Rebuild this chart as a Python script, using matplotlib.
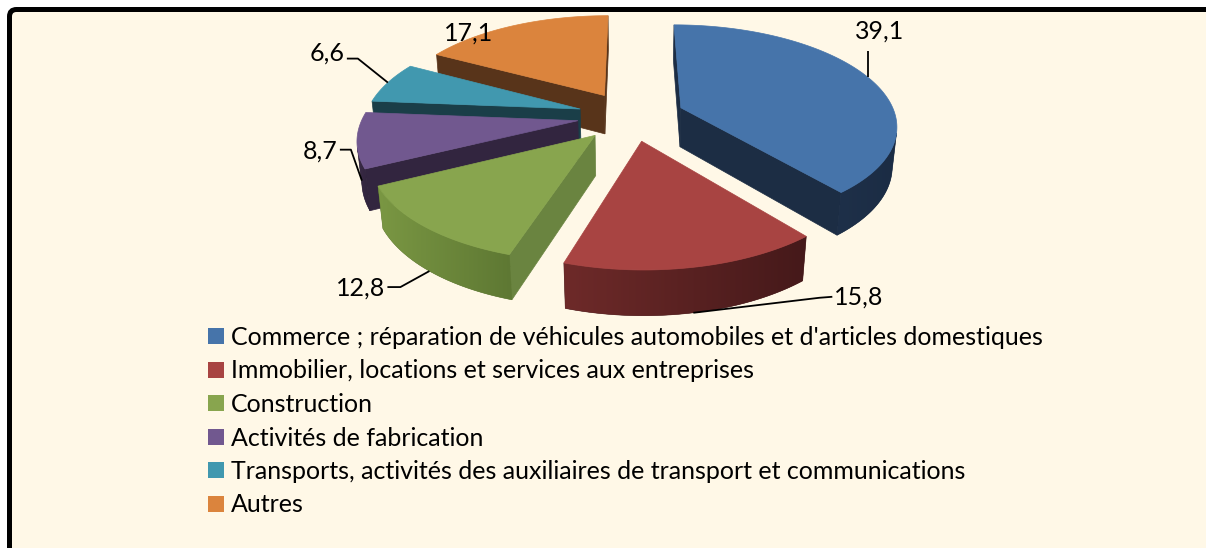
import numpy as np
import matplotlib
matplotlib.use("Agg")
import matplotlib.pyplot as plt
from matplotlib.patches import Polygon, FancyBboxPatch, Patch
from matplotlib.colors import LinearSegmentedColormap

# ---------------- data ----------------
categories = [
    "Commerce ; réparation de véhicules automobiles et d'articles domestiques",
    "Immobilier, locations et services aux entreprises",
    "Construction",
    "Activités de fabrication",
    "Transports, activités des auxiliaires de transport et communications",
    "Autres",
]
values = [39.1, 15.8, 12.8, 8.7, 6.6, 17.1]
value_labels = ["39,1", "15,8", "12,8", "8,7", "6,6", "17,1"]

# ---------------- style ----------------
top_colors = ["#4674AA", "#A84442", "#88A54E", "#71588F", "#4198AF", "#DB843D"]
wall_dark = ["#1B2C44", "#45191A", "#5E7833", "#2F233B", "#193C45", "#55321A"]
wall_light = ["#1E3049", "#6E2A29", "#7A9743", "#3A2B47", "#1D4550", "#5E3A1E"]
radial_colors = ["#1C2D44", "#5A2220", "#6A8440", "#32253F", "#1A3E48", "#58341A"]
cream = "#FFF8E7"
FONT = ["Lato", "DejaVu Sans"]
plt.rcParams["font.family"] = FONT

W, H, DPI = 1206, 548, 100
# 3D view parameters (pie radius = 1)
D = 5.5            # camera distance
ELEV = np.degrees(np.arcsin(0.46))
THICK = 0.21       # pie thickness
EXPLODE = 0.25     # explosion distance
SCALE = 1181.0     # pixels per projected unit
CX, CY = 631.0, 116.0  # pixel position of the pie centre (top face)

se, ce = np.sin(np.radians(ELEV)), np.cos(np.radians(ELEV))
cam = np.array([0.0, -D * ce, D * se])


def proj(x, y, z):
    dist = D + y * ce - z * se
    return x / dist, (y * se + z * ce) / dist


fig = plt.figure(figsize=(W / DPI, H / DPI), dpi=DPI, facecolor="white")

# background / frame axes in pixel units
bg = fig.add_axes([0, 0, 1, 1])
bg.set_xlim(0, W)
bg.set_ylim(H, 0)
bg.axis("off")
bg.add_patch(FancyBboxPatch((9.5, 9.5), W + 40, H + 40,
                            boxstyle="round,pad=0,rounding_size=7",
                            lw=3.6, ec="black", fc=cream, zorder=0))

# pie axes in projected units
ax = fig.add_axes([0, 0, 1, 1])
XL = (-CX / SCALE, (W - CX) / SCALE)
YL = ((CY - H) / SCALE, CY / SCALE)
ax.axis("off")
ax.patch.set_alpha(0)

vals = np.array(values, dtype=float)
frac = vals / vals.sum()
starts = 90.0 - 360.0 * np.concatenate([[0], np.cumsum(frac)[:-1]])
ends = starts - 360.0 * frac


def visible(p, n):
    return np.dot(p - cam, n) < 0


slices = []
for i in range(len(vals)):
    t1, t2 = np.radians(starts[i]), np.radians(ends[i])
    b = 0.5 * (t1 + t2)
    o = EXPLODE * np.array([np.cos(b), np.sin(b)])
    depth_key = o[1] + 0.5 * np.sin(b)
    slices.append((depth_key, i, t1, t2, b, o))

slices.sort(key=lambda s: -s[0])
z = 10
for _, i, t1, t2, b, o in slices:
    phis = np.linspace(t1, t2, 200)
    rim = np.stack([o[0] + np.cos(phis), o[1] + np.sin(phis)], axis=1)
    # radial faces
    for ang, nvec in ((t1, np.array([-np.sin(t1), np.cos(t1), 0])),
                      (t2, np.array([np.sin(t2), -np.cos(t2), 0]))):
        p = np.array([o[0] + 0.5 * np.cos(ang), o[1] + 0.5 * np.sin(ang), -THICK / 2])
        if visible(p, nvec):
            pts3 = [(o[0], o[1], 0), (o[0] + np.cos(ang), o[1] + np.sin(ang), 0),
                    (o[0] + np.cos(ang), o[1] + np.sin(ang), -THICK), (o[0], o[1], -THICK)]
            ax.add_patch(Polygon([proj(*q) for q in pts3], closed=True,
                                 fc=radial_colors[i], ec=radial_colors[i], lw=0.5, zorder=z))
    # outer wall (visible part, as one polygon with a horizontal gradient)
    vis = []
    for k in range(len(phis)):
        nvec = np.array([np.cos(phis[k]), np.sin(phis[k]), 0])
        p = np.array([rim[k, 0], rim[k, 1], -THICK / 2])
        vis.append(visible(p, nvec))
    vis = np.array(vis)
    if vis.sum() >= 2:
        idx = np.where(vis)[0]
        topw = [proj(rim[k, 0], rim[k, 1], 0) for k in idx]
        botw = [proj(rim[k, 0], rim[k, 1], -THICK) for k in idx[::-1]]
        wpts = np.array(topw + botw)
        wall = Polygon(wpts, closed=True, fc=wall_dark[i], ec=wall_dark[i], lw=0.4, zorder=z)
        ax.add_patch(wall)
        cmap = LinearSegmentedColormap.from_list("w%d" % i, [wall_light[i], wall_dark[i]])
        x0, x1 = wpts[:, 0].min(), wpts[:, 0].max()
        y0, y1 = wpts[:, 1].min(), wpts[:, 1].max()
        im = ax.imshow(np.linspace(0, 1, 256)[None, :], cmap=cmap, aspect="auto",
                       extent=(x0, x1, y0, y1), origin="lower", zorder=z + 0.5,
                       interpolation="bilinear")
        im.set_clip_path(wall)
    # top face
    top = [proj(o[0], o[1], 0)] + [proj(x, y, 0) for x, y in rim]
    ax.add_patch(Polygon(top, closed=True, fc=top_colors[i], ec=top_colors[i],
                         lw=0.5, zorder=z + 1))
    z += 2

# ---------------- data labels ----------------
# anchor on the slice (top or bottom rim at bisector), leader path and text offset in pixels
label_layout = [
    dict(z="top", path=[(0, -26)], text=(12, -46), ha="center"),
    dict(z="bottom", path=[(126, -15), (139, -16)], text=(141, -16), ha="left"),
    dict(z="bottom", path=[(-29, 16), (-42, 16)], text=(-44, 17), ha="right"),
    dict(z="bottom", path=[(-11, -31), (-22, -31)], text=(-24, -30), ha="right"),
    dict(z="top", path=[(-30, -24), (-41, -24)], text=(-43, -30), ha="right"),
    dict(z="top", path=[], text=(-45, 8), ha="center"),
]
for _, i, t1, t2, b, o in slices:
    lay = label_layout[i]
    zz = 0 if lay["z"] == "top" else -THICK
    ax_, ay_ = proj(o[0] + np.cos(b), o[1] + np.sin(b), zz)
    if lay["path"]:
        xs = [ax_] + [ax_ + dx / SCALE for dx, dy in lay["path"]]
        ys = [ay_] + [ay_ - dy / SCALE for dx, dy in lay["path"]]
        ax.plot(xs, ys, color="black", lw=1.3, zorder=100, solid_capstyle="butt")
    tx, ty = lay["text"]
    ax.text(ax_ + tx / SCALE, ay_ - ty / SCALE, value_labels[i], ha=lay["ha"],
            va="center", fontsize=18, color="black", zorder=101)

ax.set_xlim(*XL)
ax.set_ylim(*YL)

# ---------------- legend ----------------
handles = [Patch(facecolor=c, edgecolor="none") for c in top_colors]
bg.legend(handles, categories, loc="upper left",
          bbox_to_anchor=(208 / W, 1 - 326 / H), bbox_transform=fig.transFigure,
          frameon=False, fontsize=18, handlelength=0.62, handleheight=0.62,
          handletextpad=0.3, labelspacing=0.42, borderpad=0, borderaxespad=0)

fig.savefig("out.png", dpi=DPI, facecolor="white")
